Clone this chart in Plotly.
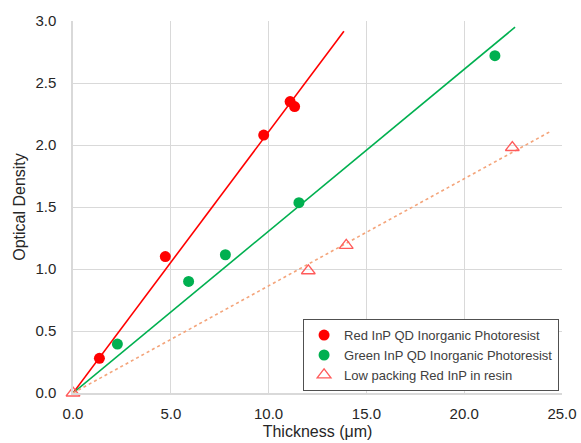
import numpy as np
import plotly.graph_objects as go

# Data
red_x = [1.35, 4.72, 9.75, 11.10, 11.33]
red_y = [0.28, 1.10, 2.08, 2.35, 2.31]
green_x = [2.27, 5.91, 7.79, 11.55, 21.57]
green_y = [0.395, 0.90, 1.115, 1.535, 2.72]
low_x = [0.0, 12.03, 13.97, 22.46]
low_y = [0.0, 0.986, 1.19, 1.98]

# Trendline extent (x range of each linear fit through origin)
red_fit_range = [0.0, 13.85]
green_fit_range = [0.0, 22.6]
low_fit_range = [0.0, 24.4]

names = ["Red InP QD Inorganic Photoresist",
         "Green InP QD Inorganic Photoresist",
         "Low packing Red InP in resin"]

x_ticks = [0, 5, 10, 15, 20, 25]
y_ticks = [0, 0.5, 1.0, 1.5, 2.0, 2.5, 3.0]


def slope_origin(x, y):
    x = np.asarray(x, float)
    y = np.asarray(y, float)
    return float((x * y).sum() / (x * x).sum())


fig = go.Figure()

RED = "#FF0000"
GREEN = "#00B050"
TRI = "#FF5B5B"
ORANGE = "#F4A47A"

for xs, ys, rng, col, dash in [
    (red_x, red_y, red_fit_range, RED, "solid"),
    (green_x, green_y, green_fit_range, GREEN, "solid"),
    (low_x, low_y, low_fit_range, ORANGE, "dot"),
]:
    k = slope_origin(xs, ys)
    fx = np.array(rng)
    fig.add_trace(go.Scatter(x=fx, y=k * fx, mode="lines",
                             line=dict(color=col, width=1.6, dash=dash),
                             showlegend=False, hoverinfo="skip"))

fig.add_trace(go.Scatter(x=red_x, y=red_y, mode="markers", name=names[0],
                         marker=dict(color=RED, size=11, symbol="circle")))
fig.add_trace(go.Scatter(x=green_x, y=green_y, mode="markers", name=names[1],
                         marker=dict(color=GREEN, size=11, symbol="circle")))
fig.add_trace(go.Scatter(x=low_x, y=low_y, mode="markers", name=names[2],
                         cliponaxis=False,
                         marker=dict(color=TRI, size=12, symbol="triangle-up-open",
                                     line=dict(color=TRI, width=1.3))))

font_family = "Liberation Sans, Arial, sans-serif"

fig.update_layout(
    width=581, height=443,
    margin=dict(l=73, r=19, t=21, b=50, autoexpand=False),
    paper_bgcolor="white", plot_bgcolor="white",
    font=dict(family=font_family, size=15, color="#262626"),
    legend=dict(x=0.994, y=0.005, xanchor="right", yanchor="bottom",
                bgcolor="white", bordercolor="#505050", borderwidth=1,
                font=dict(size=13, color="#404040"),
                itemwidth=30, tracegroupgap=0),
    xaxis=dict(range=[0, 25], tickvals=x_ticks, tickformat=".1f", automargin=False,
               showgrid=True, gridcolor="#D9D9D9", gridwidth=1,
               zeroline=False, showline=True, linecolor="#D9D9D9", linewidth=1.5,
               mirror=False, ticks="outside", ticklen=6, tickcolor="rgba(0,0,0,0)",
               title=dict(text="Thickness (μm)", font=dict(size=16), standoff=5)),
    yaxis=dict(range=[0, 3.0], tickvals=y_ticks, tickformat=".1f", automargin=False,
               showgrid=True, gridcolor="#D9D9D9", gridwidth=1,
               zeroline=False, showline=True, linecolor="#D9D9D9", linewidth=1.5,
               ticks="outside", ticklen=12, tickcolor="rgba(0,0,0,0)",
               title=dict(text="Optical Density", font=dict(size=16), standoff=6)),
)

fig.write_html(
    "out.html",
    config={"displayModeBar": False},
    post_script="document.body.style.margin='0';document.body.style.overflow='hidden';",
)
